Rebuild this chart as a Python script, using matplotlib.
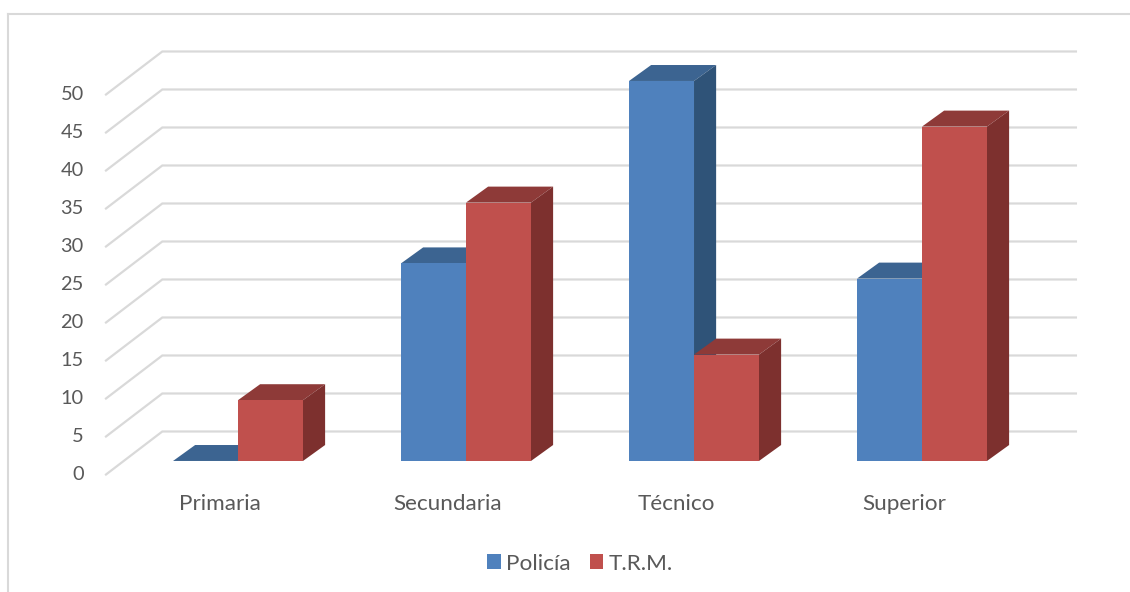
import matplotlib
matplotlib.use('Agg')
import matplotlib.pyplot as plt
from matplotlib.lines import Line2D
from matplotlib.patches import Patch
from matplotlib.transforms import ScaledTranslation

categories = ['Primaria', 'Secundaria', 'Técnico', 'Superior']
policia = [0, 26, 50, 24]
trm = [8, 34, 14, 44]
y_ticks = [0, 5, 10, 15, 20, 25, 30, 35, 40, 45, 50]

plt.rcParams['font.family'] = ['Lato', 'DejaVu Sans']

W, H = 1130, 592
text_col = '#595959'
grid_col = '#D9D9D9'
blue = ('#4F81BD', '#3C6491', '#2F5378')   # front, top, side
red = ('#C0504D', '#8E3A38', '#7D302E')

# fake 3d offsets, in data units (x = category, y = value)
wall_dx, wall_dy = 0.247, 5.66
wall_end = 3.754
bar_dx, bar_dy = 0.079, 1.78
depth_dx, depth_dy = 0.097, 2.1
bar_w = 0.285

fig = plt.figure(figsize=(W / 100, H / 100), dpi=100)

# axes is the front plane of the 3d box
left, right = 106, 1018
bottom, top = 474.5, 56.5
ax = fig.add_axes([left / W, 1 - bottom / H, (right - left) / W, (bottom - top) / H])
ax.set_xlim(-0.5, 3.5)
ax.set_ylim(0, 55)
for s in ax.spines.values():
    s.set_visible(False)

# chart frame (right and bottom run off the image)
fig.add_artist(Line2D([8 / W, 8 / W], [0, 1 - 14 / H], color=grid_col, lw=1.5))
fig.add_artist(Line2D([8 / W, 1], [1 - 14 / H, 1 - 14 / H], color=grid_col, lw=1.5))

# grid lines: floor/side wall diagonal then along the back wall
for v in y_ticks:
    ax.plot([-0.5, -0.5 + wall_dx, wall_end], [v, v + wall_dy, v + wall_dy],
            color=grid_col, lw=1.6, clip_on=False, zorder=1, solid_joinstyle='miter')


def draw_bars(x0, values, cols):
    # x0 is the left edge of each bar, relative to the category tick
    for i, v in enumerate(values):
        x1 = i + x0
        x2 = x1 + bar_w
        b = bar_dy
        top_x = [x1, x1 + depth_dx, x2 + depth_dx, x2]
        top_y = [v + b, v + b + depth_dy, v + b + depth_dy, v + b]
        ax.fill(top_x, top_y, color=cols[1], lw=0, clip_on=False, zorder=3)
        if v > 0:
            side_x = [x2, x2 + depth_dx, x2 + depth_dx, x2]
            side_y = [b, b + depth_dy, v + b + depth_dy, v + b]
            ax.fill(side_x, side_y, color=cols[2], lw=0, clip_on=False, zorder=3)
            ax.bar(x1, v, width=bar_w, bottom=b, align='edge', color=cols[0], lw=0,
                   clip_on=False, zorder=3)


draw_bars(bar_dx - bar_w, policia, blue)
draw_bars(bar_dx, trm, red)

ax.set_yticks(y_ticks)
ax.set_xticks(range(len(categories)))
ax.set_xticklabels(categories)
ax.tick_params(axis='y', length=0, pad=16, labelsize=14.4, labelcolor=text_col)
ax.tick_params(axis='x', length=0, pad=14, labelsize=16.2, labelcolor=text_col)

# nudge the value labels up a little
for lab in ax.get_yticklabels():
    lab.set_transform(lab.get_transform() + ScaledTranslation(0, 1.5 / 100, fig.dpi_scale_trans))

handles = [Patch(color=blue[0], lw=0), Patch(color=red[0], lw=0)]
fig.legend(handles, ['Policía', 'T.R.M.'], loc='center', bbox_to_anchor=(580 / W, 1 - 563.5 / H),
           ncol=2, frameon=False, fontsize=16.2, labelcolor=text_col,
           handlelength=0.62, handleheight=0.62, handletextpad=0.22, columnspacing=0.83)

fig.savefig('out.png', dpi=100)
